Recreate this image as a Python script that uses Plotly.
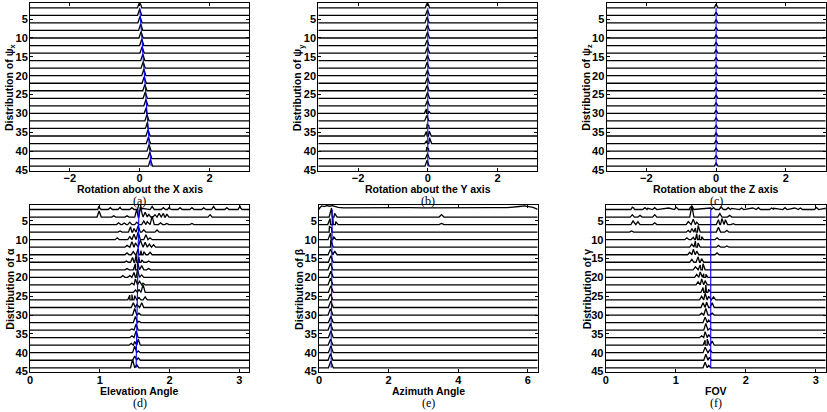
import math
import plotly.graph_objects as go

PI = math.pi
ROWS = [2 * k for k in range(1, 23)]  # baselines y = 2, 4, ..., 44

# ---------------- (a) rotation about X ----------------
truth_a = [0.00, 0.02, 0.03, 0.05, 0.06, 0.08, 0.09, 0.11, 0.12, 0.14, 0.15,
           0.17, 0.18, 0.20, 0.21, 0.23, 0.24, 0.26, 0.27, 0.29, 0.31, 0.33]
peaks_a = [
    [(0.00, 1.8)], [(0.00, 1.7)], [(0.01, 1.7)], [(0.03, 1.7)], [(0.04, 1.7)],
    [(0.06, 1.7)], [(0.07, 1.7)], [(0.09, 1.7)], [(0.10, 1.7)], [(0.12, 1.7)],
    [(0.13, 1.7)], [(0.15, 1.7)], [(0.16, 1.7)], [(0.18, 1.7)],
    [(0.19, 1.6), (0.14, 0.3)], [(0.21, 1.7)], [(0.22, 1.6), (0.18, 0.4)],
    [(0.24, 1.7)], [(0.25, 1.7)], [(0.27, 1.7)], [(0.29, 1.7)], [(0.31, 1.8)],
]

# ---------------- (b) rotation about Y ----------------
truth_b = [0.00, 0.00, 0.00, 0.00, 0.00, 0.00, 0.00, 0.00, 0.00, 0.00, 0.00,
           0.00, 0.00, 0.00, 0.00, 0.00, 0.00, 0.00, 0.00, 0.00, 0.00, 0.00]
peaks_b = [
    [(-0.01, 1.2)], [(-0.01, 1.1)], [(-0.02, 1.2)], [(-0.01, 1.1)], [(-0.01, 1.2)],
    [(-0.02, 1.1)], [(-0.01, 1.2)], [(-0.01, 1.1)], [(-0.02, 1.2)], [(-0.01, 1.1)],
    [(-0.01, 1.2)], [(-0.02, 1.1)], [(-0.01, 1.2)], [(-0.01, 1.1)],
    [(-0.04, 0.9), (0.02, 0.5)], [(-0.03, 1.1)], [(-0.02, 0.8), (0.03, 0.6)],
    [(-0.04, 0.9), (0.04, 1.0)], [(0.05, 1.2), (-0.03, 0.6)],
    [(-0.03, 0.8), (0.02, 0.5)], [(-0.01, 1.0)], [(-0.02, 1.2)],
]

# ---------------- (c) rotation about Z ----------------
truth_c = [0.00, 0.00, 0.00, 0.00, 0.00, 0.00, 0.00, 0.00, 0.00, 0.00, 0.00,
           0.00, 0.00, 0.00, 0.00, 0.00, 0.00, 0.00, 0.00, 0.00, 0.00, 0.00]
peaks_c = [
    [(0.00, 1.0)], [(0.00, 0.9)], [(0.00, 0.9)], [(0.00, 0.9)], [(0.00, 0.9)],
    [(0.00, 0.9)], [(0.00, 0.9)], [(0.00, 0.9)], [(0.00, 0.9)], [(0.00, 0.9)],
    [(0.00, 0.9)], [(0.00, 0.9)], [(0.00, 0.9)], [(0.00, 0.9)], [(0.00, 0.9)],
    [(0.00, 0.9)], [(0.00, 0.9)], [(0.00, 0.9)], [(0.00, 0.9)], [(0.00, 0.9)],
    [(0.00, 0.9)], [(0.00, 0.9)],
]

# ---------------- (d) elevation angle ----------------
truth_d = [1.560, 1.558, 1.556, 1.555, 1.553, 1.551, 1.549, 1.547, 1.545, 1.543, 1.541,
           1.539, 1.537, 1.536, 1.534, 1.532, 1.530, 1.528, 1.526, 1.524, 1.522, 1.520]
floor_top_d = [(0.97, 0.0), (1.00, 0.2), (1.30, 0.15), (1.60, 0.2), (2.00, 0.15),
               (2.50, 0.15), (3.02, 0.2), (3.06, 0.0)]
peaks_d = [
    [(0.99, 0.6), (1.15, 0.3), (1.29, 0.35), (1.46, 0.3), (1.57, 1.3), (1.75, 0.5),
     (1.91, 0.3), (2.00, 0.45), (2.15, 0.3), (2.32, 0.3), (2.49, 0.3), (2.63, 0.5),
     (2.82, 0.3), (3.01, 0.6)],
    [(0.99, 1.0), (1.20, 0.2), (1.39, 0.2), (1.53, 1.3), (1.58, 1.7), (1.65, 0.8),
     (1.70, 0.5), (1.79, 0.4), (1.85, 0.6), (1.91, 0.6), (1.96, 0.5), (2.58, 0.4)],
    [(1.27, 0.3), (1.35, 0.25), (1.43, 0.4), (1.53, 0.4), (1.63, 0.6), (1.68, 0.5),
     (1.75, 1.4), (1.87, 0.3), (1.96, 0.2), (2.32, 0.2)],
    [(1.29, 0.2), (1.44, 0.9), (1.49, 0.6), (1.55, 1.1), (1.63, 0.4), (1.82, 0.35)],
    [(1.25, 0.3), (1.43, 0.5), (1.49, 0.9), (1.55, 1.3), (1.66, 0.8), (1.72, 0.3)],
    [(1.39, 0.3), (1.46, 0.9), (1.51, 0.7), (1.58, 1.2), (1.65, 0.8), (1.71, 0.5),
     (1.77, 0.4)],
    [(1.39, 0.3), (1.48, 0.5), (1.55, 1.0), (1.59, 0.7), (1.63, 0.5), (1.72, 0.4)],
    [(1.38, 0.2), (1.47, 0.8), (1.52, 1.2), (1.56, 0.9), (1.60, 0.4), (1.70, 0.2)],
    [(1.39, 0.2), (1.51, 1.0), (1.54, 1.3), (1.60, 0.7), (1.70, 0.2)],
    [(1.33, 0.3), (1.43, 0.3), (1.49, 0.8), (1.54, 1.3), (1.60, 0.4)],
    [(1.46, 0.3), (1.51, 1.0), (1.57, 0.6), (1.62, 0.3)],
    [(1.51, 0.4), (1.56, 0.5), (1.62, 1.3)],
    [(1.43, 0.8), (1.46, 0.9), (1.50, 0.7), (1.56, 0.4), (1.65, 0.5)],
    [(1.48, 0.8), (1.53, 0.5), (1.60, 0.8)],
    [(1.50, 1.1), (1.56, 0.3)],
    [(1.51, 1.0), (1.56, 0.2)],
    [(1.46, 0.2), (1.52, 1.0)],
    [(1.46, 0.3), (1.52, 1.1)],
    [(1.45, 0.3), (1.50, 0.6), (1.55, 1.0)],
    [(1.50, 1.1), (1.55, 0.3)],
    [(1.50, 0.7), (1.55, 0.4)],
    [(1.47, 1.4), (1.53, 0.5)],
]

# ---------------- (e) azimuth angle ----------------
truth_e = [0.38, 0.38, 0.38, 0.37, 0.37, 0.37, 0.37, 0.37, 0.36, 0.36, 0.36,
           0.36, 0.36, 0.36, 0.35, 0.35, 0.35, 0.35, 0.35, 0.35, 0.35, 0.35]
floor_top_e = [(0.00, 0.0), (0.03, 0.35), (0.08, 0.6), (0.15, 0.5), (0.22, 0.65),
               (0.30, 0.55), (0.38, 0.65), (0.45, 0.5), (0.55, 0.35), (0.70, 0.28),
               (1.00, 0.3), (1.40, 0.25), (1.80, 0.3), (2.20, 0.27), (2.60, 0.3),
               (3.00, 0.27), (3.40, 0.3), (3.80, 0.27), (4.20, 0.3), (4.60, 0.27),
               (5.00, 0.3), (5.40, 0.3), (5.60, 0.35), (5.75, 0.5), (5.90, 0.6),
               (6.05, 0.5), (6.15, 0.35), (6.25, 0.1), (6.28, 0.0)]
peaks_e = [
    [],
    [(0.36, 1.5), (0.45, 0.6), (3.52, 0.4)],
    [(0.32, 1.0), (0.40, 1.2), (0.48, 0.5), (3.52, 0.2)],
    [(0.30, 0.9), (0.36, 0.7)],
    [(0.33, 1.1), (0.42, 0.5)],
    [(0.34, 1.2), (0.40, 0.4)],
    [(0.33, 0.9), (0.45, 0.6)],
    [(0.34, 1.1)], [(0.33, 1.1)], [(0.34, 1.0)], [(0.33, 1.1)], [(0.34, 1.1)],
    [(0.33, 1.0)], [(0.34, 1.1)], [(0.33, 1.1)], [(0.34, 1.0)], [(0.33, 1.1)],
    [(0.34, 1.1)], [(0.33, 1.0)], [(0.34, 1.1)], [(0.33, 1.1)], [(0.34, 1.1)],
]

# ---------------- (f) FOV ----------------
truth_f = [1.50, 1.50, 1.50, 1.50, 1.50, 1.50, 1.50, 1.50, 1.50, 1.50, 1.50,
           1.50, 1.50, 1.50, 1.50, 1.50, 1.50, 1.50, 1.50, 1.50, 1.50, 1.50]
floor_top_f = [(0.36, 0.0), (0.40, 0.25), (0.60, 0.2), (0.90, 0.25), (1.20, 0.2),
               (1.50, 0.25), (1.80, 0.2), (2.10, 0.25), (2.40, 0.2), (2.70, 0.25),
               (3.00, 0.2), (3.14, 0.2)]
peaks_f = [
    [(0.38, 0.4), (0.56, 0.3), (0.70, 0.3), (1.01, 0.35), (1.23, 0.6), (1.54, 0.3),
     (1.65, 0.4), (1.75, 0.3), (1.94, 0.25), (2.18, 0.3), (2.37, 0.25), (2.56, 0.3),
     (2.78, 0.25), (3.01, 0.35)],
    [(0.38, 0.4), (0.49, 0.3), (0.70, 0.4), (1.23, 1.8), (1.63, 0.6), (1.77, 0.3)],
    [(0.39, 0.6), (0.46, 0.5), (0.70, 0.3), (1.18, 0.5), (1.25, 0.9), (1.30, 0.4),
     (1.61, 0.8), (1.66, 1.0), (1.71, 0.8), (1.82, 0.15)],
    [(0.37, 0.2), (1.18, 0.3), (1.23, 0.6), (1.28, 0.7), (1.32, 1.1), (1.61, 0.8),
     (1.73, 0.3)],
    [(1.16, 0.3), (1.25, 0.4), (1.30, 1.0), (1.34, 0.8), (1.37, 0.5), (1.59, 0.3)],
    [(1.23, 0.5), (1.28, 1.0), (1.32, 0.7), (1.61, 0.3), (1.73, 0.2)],
    [(1.20, 0.4), (1.25, 0.9), (1.30, 0.6), (1.59, 0.3)],
    [(1.23, 0.5), (1.32, 0.9), (1.37, 0.6)],
    [(1.28, 0.5), (1.35, 0.8), (1.39, 1.0)],
    [(1.30, 0.5), (1.35, 0.9), (1.40, 0.6), (1.43, 0.5)],
    [(1.32, 0.5), (1.37, 1.0), (1.42, 0.7)],
    [(1.39, 0.8), (1.43, 1.2), (1.47, 0.5)],
    [(1.37, 0.6), (1.42, 1.1), (1.47, 0.6), (1.54, 0.5)],
    [(1.39, 0.8), (1.44, 0.9), (1.52, 0.8)],
    [(1.37, 0.3), (1.43, 1.1), (1.52, 0.3), (1.63, 0.1)],
    [(1.42, 0.9), (1.47, 0.4)],
    [(1.43, 1.1), (1.49, 0.3)],
    [(1.37, 0.3), (1.42, 1.0), (1.47, 0.5)],
    [(1.42, 0.8), (1.45, 1.0), (1.52, 0.7)],
    [(1.42, 0.9), (1.49, 0.5)],
    [(1.43, 1.0), (1.48, 0.5)],
    [(1.42, 0.9), (1.47, 0.4)],
]

# ---------------- labels ----------------
x_titles = ["Rotation about the X axis", "Rotation about the Y axis",
            "Rotation about the Z axis", "Elevation Angle", "Azimuth Angle", "FOV"]
y_titles = ["Distribution of ψ<sub>x</sub>", "Distribution of ψ<sub>y</sub>",
            "Distribution of ψ<sub>z</sub>", "Distribution of α",
            "Distribution of β", "Distribution of γ"]
letters = ["(a)", "(b)", "(c)", "(d)", "(e)", "(f)"]
x_ranges = [[-PI, PI], [-PI, PI], [-PI, PI], [0, PI], [0, 2 * PI], [0, PI]]
x_ticks = [[-2, 0, 2], [-2, 0, 2], [-2, 0, 2], [0, 1, 2, 3], [0, 2, 4, 6], [0, 1, 2, 3]]
y_ticks = [5, 10, 15, 20, 25, 30, 35, 40, 45]
y_range = [45.2, 0.8]

truths = [truth_a, truth_b, truth_c, truth_d, truth_e, truth_f]
peaks = [peaks_a, peaks_b, peaks_c, peaks_d, peaks_e, peaks_f]
floors = [None, None, None, floor_top_d, floor_top_e, floor_top_f]
half_widths = [0.06, 0.06, 0.05, 0.03, 0.07, 0.03]
ridge_scale = [1.0, 1.3, 1.0, 1.6, 1.6, 1.6]   # density -> row-height units

# panel boxes in pixels: left, right, top, bottom
W, H = 827, 412
boxes = [(30, 249.3, 3.3, 170.7), (318.3, 537.3, 3.3, 170.7), (606.5, 825.7, 3.3, 170.7),
         (30, 249.3, 205, 372.3), (319, 537.7, 205, 372.3), (605.7, 825.7, 205, 372.3)]
ytitle_x = [10, 298.3, 586.7, 10, 298.3, 586.7]


def row_vertices(row_peaks, floor, hw, scale, xmin, xmax, base):
    pts = []
    for p in row_peaks:
        c, h = p[0], p[1]
        pts += [(c - hw, 0.0), (c, h), (c + hw, 0.0)]
    if floor:
        pts += list(floor)
    pts.sort(key=lambda t: t[0])
    xs = [xmin] + [t[0] for t in pts] + [xmax]
    ys = [base] + [base - t[1] * scale for t in pts] + [base]
    return xs, ys


fig = go.Figure()
FONT = "Liberation Sans"
annotations = []
for i in range(6):
    ax = "" if i == 0 else str(i + 1)
    xmin, xmax = x_ranges[i]
    X, Y = [], []
    for r, base in enumerate(ROWS):
        fl = floors[i] if r == 0 else None
        xs, ys = row_vertices(peaks[i][r], fl, half_widths[i], ridge_scale[i],
                              xmin, xmax, base)
        X += xs + [None]
        Y += ys + [None]
    fig.add_trace(go.Scatter(x=X, y=Y, mode="lines", xaxis="x" + ax, yaxis="y" + ax,
                             line=dict(color="black", width=1.3), hoverinfo="skip"))
    fig.add_trace(go.Scatter(x=truths[i], y=ROWS, mode="lines", xaxis="x" + ax,
                             yaxis="y" + ax, line=dict(color="#0000ff", width=1.1),
                             hoverinfo="skip"))
    l, rgt, t, b = boxes[i]
    axis_common = dict(showline=True, linecolor="black", linewidth=1, mirror="allticks",
                       ticks="inside", ticklen=3, tickcolor="black", showgrid=False,
                       zeroline=False, automargin=False,
                       tickfont=dict(family=FONT, size=11, color="black", weight="bold"))
    fig.update_layout(**{
        "xaxis" + ax: dict(domain=[l / W, rgt / W], range=[xmin, xmax],
                           tickvals=x_ticks[i], anchor="y" + ax, ticklabelstandoff=-3,
                           **axis_common),
        "yaxis" + ax: dict(domain=[1 - b / H, 1 - t / H], range=y_range,
                           tickvals=y_ticks, anchor="x" + ax, ticklabelstandoff=-1,
                           **axis_common),
    })
    cx = (l + rgt) / 2 / W
    yt = b + 18.3
    annotations.append(dict(x=cx, y=1 - yt / H, xref="paper", yref="paper",
                            text=x_titles[i], showarrow=False, xanchor="center",
                            yanchor="middle",
                            font=dict(family=FONT, size=10.5, color="black",
                                      weight="bold")))
    annotations.append(dict(x=cx, y=1 - (yt + 12) / H, xref="paper", yref="paper",
                            text=letters[i], showarrow=False, xanchor="center",
                            yanchor="middle",
                            font=dict(family="Liberation Serif", size=12, color="black")))
    annotations.append(dict(x=ytitle_x[i] / W, y=1 - (t + b) / 2 / H, xref="paper",
                            yref="paper", text=y_titles[i], showarrow=False,
                            textangle=-90, xanchor="center", yanchor="middle",
                            font=dict(family=FONT, size=10.5, color="black",
                                      weight="bold")))

fig.update_layout(width=W, height=H, margin=dict(l=0, r=0, t=0, b=0),
                  paper_bgcolor="white", plot_bgcolor="white", showlegend=False,
                  annotations=annotations)
fig.write_html("out.html", config={"displayModeBar": False},
               post_script="document.body.style.margin='0';document.body.style.overflow='hidden';")
